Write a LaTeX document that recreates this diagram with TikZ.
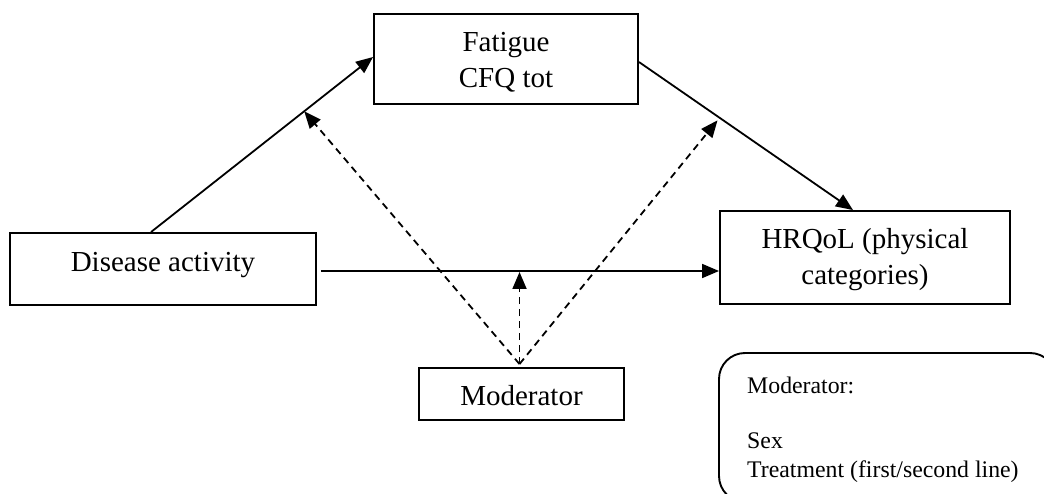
\documentclass[tikz,border=0pt]{standalone}
\usepackage{fontspec}
\setmainfont{Liberation Serif}
\usetikzlibrary{arrows.meta,calc}

\begin{document}
\begin{tikzpicture}[x=1pt,y=-1pt,
  box/.style={draw, line width=1.9pt, inner sep=0pt},
  txt/.style={anchor=base, inner sep=0pt, font=\fontsize{29}{36}\selectfont},
  legtxt/.style={anchor=base west, inner sep=0pt, font=\fontsize{23.8}{28}\selectfont},
  link/.style={line width=1.8pt, -{Triangle[length=17pt,width=14pt]}},
  modlink/.style={link, dash pattern=on 7pt off 5pt}]
\useasboundingbox (0,0) rectangle (1044,494);
\clip (0,0) rectangle (1044,494);

% boxes
\node[box, minimum width=264pt, minimum height=90pt] (fat) at (506,59) {};
\node[box, minimum width=306pt, minimum height=72pt] (dis) at (163,269) {};
\node[box, minimum width=290pt, minimum height=93pt] (hrq) at (865,257.5) {};
\node[box, minimum width=205pt, minimum height=52pt] (mod) at (521.5,394) {};

% box labels
\node[txt] (fat1) at (506,52) {Fatigue};
\node[txt] (fat2) at (506,88) {CFQ tot};
\node[txt] (dis1) at (163,272) {Disease activity};
\node[txt] (hrq1) at (865,249) {HRQoL (physical};
\node[txt] (hrq2) at (865,285) {categories)};
\node[txt] (mod1) at (521.5,405) {Moderator};

% legend
\draw[line width=1.9pt, rounded corners=26pt] (719,353) rectangle (1056,502);
\node[legtxt] (leg1) at (747,393) {Moderator:};
\node[legtxt] (leg2) at (747,448) {Sex};
\node[legtxt] (leg3) at (747,477) {Treatment (first/second line)};

% direct and indirect paths
\coordinate (a1) at ($(dis.north)+(-12,0)$);
\coordinate (a2) at ($(fat.west)+(0,-2)$);
\coordinate (b1) at ($(fat.east)+(0,3)$);
\coordinate (b2) at ($(hrq.north)+(-12,0)$);
\coordinate (c1) at ($(dis.east)+(4,2)$);
\coordinate (c2) at ($(hrq.west |- c1)$);
\draw[link] (a1) -- (a2);
\draw[link] (b1) -- (b2);
\draw[link] (c1) -- (c2);

% moderation paths
\coordinate (m0) at ($(mod.north)+(-2,-3)$);
\coordinate (ma) at ($(a1)!0.69!(a2)$);
\coordinate (mb) at ($(b1)!0.367!(b2)+(0,4)$);
\coordinate (mc) at ($(c1 -| m0)+(0,1)$);
\draw[modlink] (m0) -- (ma);
\draw[modlink] (m0) -- (mb);
\draw[modlink] (m0) -- (mc);
\end{tikzpicture}
\end{document}
